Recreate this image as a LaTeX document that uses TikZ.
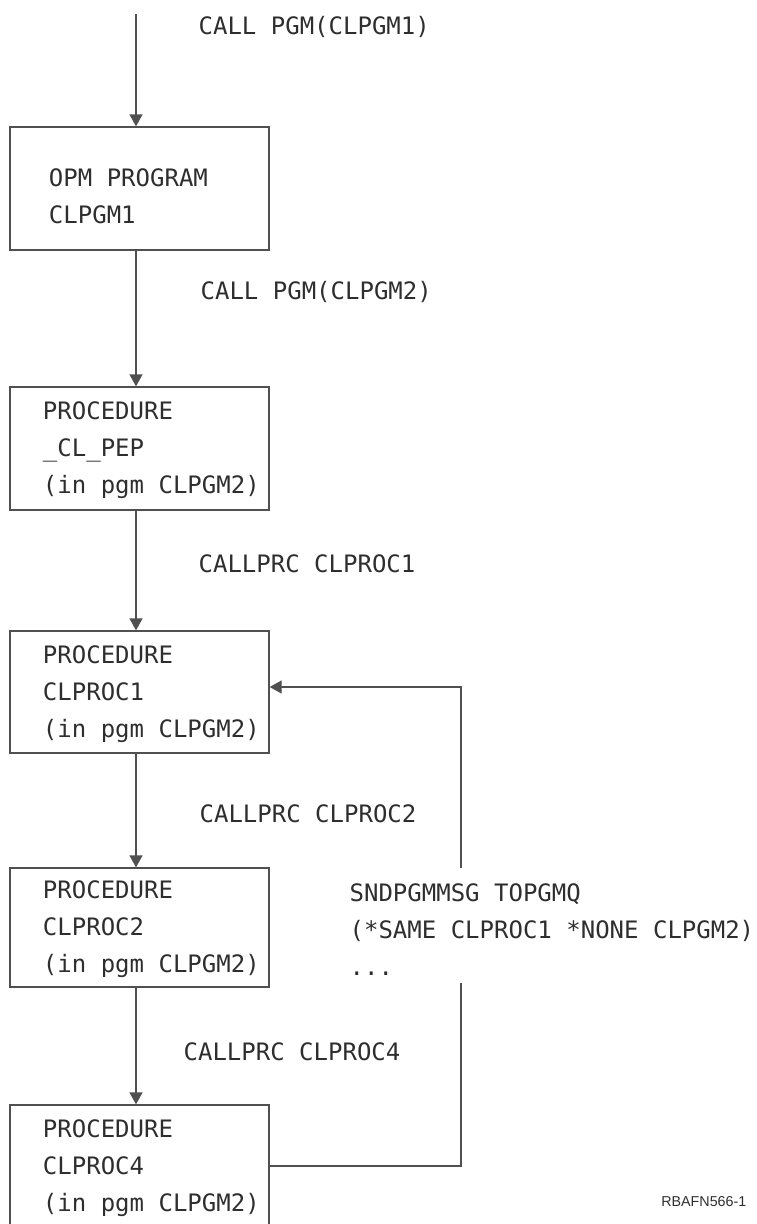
\documentclass[tikz,border=0pt]{standalone}
\usepackage{fontspec}
\setmonofont{DejaVu Sans Mono}
\newfontfamily\tagfont{Liberation Sans}
\usetikzlibrary{arrows.meta, positioning}
\definecolor{cline}{HTML}{505050}
\definecolor{ctext}{HTML}{2E2E2E}
\tikzset{
  every picture/.style={font=\ttfamily\fontsize{24}{37}\selectfont, line width=1.3pt},
  unit/.style={draw=cline, text=ctext, minimum width=259pt, minimum height=#1, text width=249pt, inner xsep=5pt, inner ysep=0pt, align=left,
    execute at begin node={\leftskip=28pt\spaceskip=14.45pt\rule{0pt}{22pt}}},
  unit/.default=122pt,
  call/.style={-{Triangle[length=12pt, width=13pt]}, draw=cline},
  cmd/.style={text=ctext, anchor=base west, inner sep=0pt, align=left},
  tag/.style={font=\tagfont\fontsize{14.3}{17}\selectfont, text=ctext, anchor=base east, inner sep=0pt},
}

\begin{document}
\begin{tikzpicture}[x=1pt, y=-1pt]
  \useasboundingbox (0,0) rectangle (756,1224);
  \coordinate (entry) at (136,14);
  \node[unit=123pt, execute at begin node={\leftskip=34pt\spaceskip=14.45pt\rule{0pt}{33.5pt}}] (box1) at (139.5,188.5) {OPM PROGRAM\\CLPGM1};
  \node[unit=123pt] (box2) at (139.5,448.5) {PROCEDURE\\\_CL\_PEP\\(in pgm CLPGM2)};
  \node[unit] (box3) at (139.5,692) {PROCEDURE\\CLPROC1\\(in pgm CLPGM2)};
  \node[unit=119pt] (box4) at (139.5,927.5) {PROCEDURE\\CLPROC2\\(in pgm CLPGM2)};
  \node[unit] (box5) at (139.5,1166) {PROCEDURE\\CLPROC4\\(in pgm CLPGM2)};
  % calls down the stack
  \node[cmd] (c1) at (198,34) {CALL PGM(CLPGM1)};
  \node[cmd] (c2) at (200,299) {CALL PGM(CLPGM2)};
  \node[cmd] (c3) at (198,572) {CALLPRC CLPROC1};
  \node[cmd] (c4) at (199,822) {CALLPRC CLPROC2};
  \node[cmd] (c5) at (183,1060) {CALLPRC CLPROC4};
  \draw[call] (entry) -- (box1.north -| entry);
  \foreach \a/\b in {box1/box2, box2/box3, box3/box4, box4/box5}
    \draw[call] (\a.south -| entry) -- (\b.north -| entry);
  % message back to CLPROC1
  \node[cmd] (msg) at (349,975) {SNDPGMMSG TOPGMQ\\(*SAME CLPROC1 *NONE CLPGM2)\\...};
  \coordinate (gapt) at (461,868);
  \coordinate (gapb) at (461,983);
  \draw[cline] (box5.east) -| (gapb);
  \draw[call] (gapt) |- ([yshift=5pt]box3.east);
  \node[tag] (fig) at (747,1206) {RBAFN566-1};
\end{tikzpicture}
\end{document}
